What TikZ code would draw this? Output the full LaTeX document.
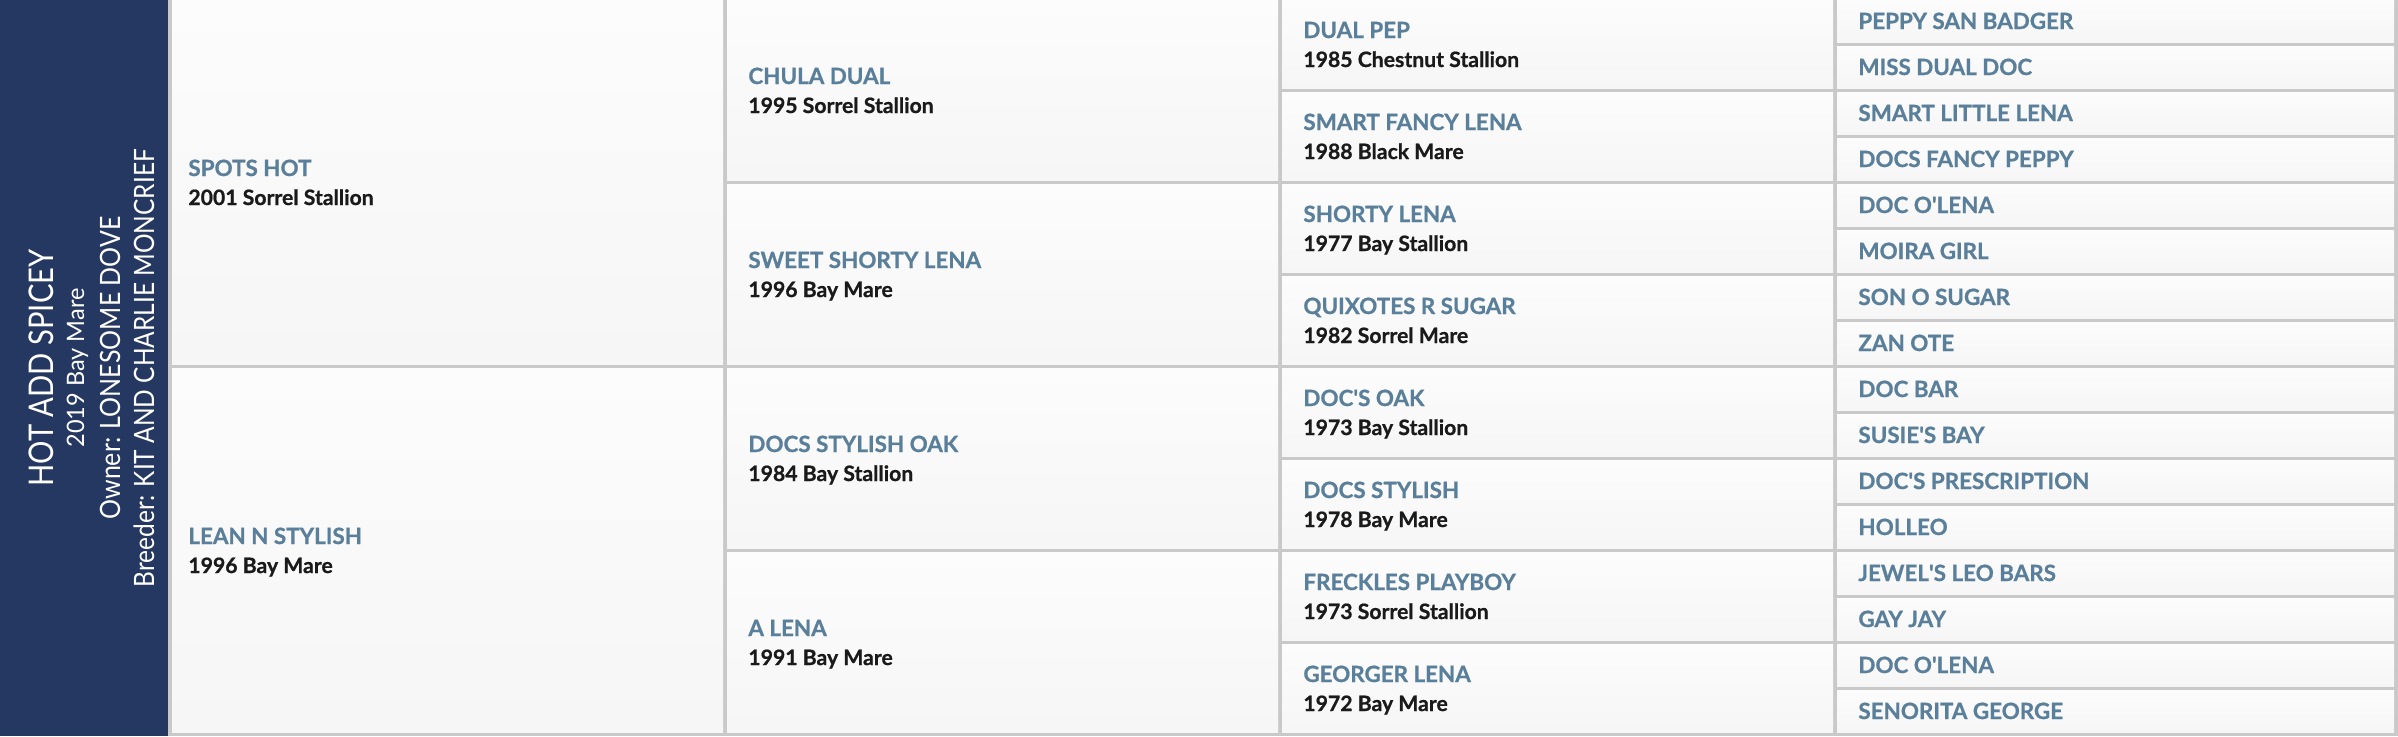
\documentclass[tikz,border=0pt]{standalone}
\usepackage{fontspec}
\setmainfont{Lato}
\newfontfamily\panelfont{Lato}
\newfontfamily\heavyfont{Lato}[BoldFeatures={FakeBold=0.8}]
\usetikzlibrary{fit}
\definecolor{navy}{HTML}{253861}
\definecolor{nameblue}{HTML}{5A7F9B}
\definecolor{datecol}{HTML}{1A1A1A}
\definecolor{gridline}{HTML}{C9C9C9}
\definecolor{celltop}{HTML}{FCFCFC}
\definecolor{cellbot}{HTML}{F6F6F6}
\newcommand\horse[8]{%
  \node[cellbox, fit={(#2,#4)(#3,#5)}] (#1) {};
  \node[hname] (#1n) at (#6,{(#4+#5)/2-6}) {#7};
  \node[hdate] (#1d) at (#6,{(#4+#5)/2+23}) {#8};
}
\newcommand\ancestor[3]{%
  \node[cellbox, fit={(1837,{46*#2})(2394,{46*#2+42})}] (#1) {};
  \node[hname] (#1n) at (1858,{46*#2+29}) {#3};
}
% panel line: font size, target length (pt), text
\newcommand\pline[3]{\resizebox{#2}{\height}{\panelfont\fontsize{#1}{#1}\selectfont #3}}
\begin{document}
\begin{tikzpicture}[x=0.5pt,y=-0.5pt,
  cellbox/.style={inner sep=0pt, outer sep=0pt, draw=none, top color=celltop, bottom color=cellbot},
  hname/.style={anchor=base west, inner sep=0pt, text=nameblue, font=\heavyfont\fontsize{11.2}{13}\selectfont\bfseries},
  hdate/.style={anchor=base west, inner sep=0pt, text=datecol, font=\heavyfont\fontsize{10.6}{12}\selectfont\bfseries},
  ptxt/.style={rotate=90, anchor=base, inner sep=0pt, text=white}]
\useasboundingbox (0,0) rectangle (2398,736);
\fill[gridline] (0,0) rectangle (2398,736);
\node[fit={(0,0)(168,736)}, inner sep=0pt, outer sep=0pt, fill=navy] (panel) {};
\node[ptxt] (title) at (53,368) {\pline{17}{118.5pt}{HOT ADD SPICEY}};
\node[ptxt] (born) at (84,368) {\pline{12}{79.5pt}{2019 Bay Mare}};
\node[ptxt] (owner) at (120,368) {\pline{14}{151.5pt}{Owner: LONESOME DOVE}};
\node[ptxt] (breeder) at (154,368) {\pline{14}{219pt}{Breeder: KIT AND CHARLIE MONCRIEF}};
% generation 1
\horse{sire}{172}{723}{0}{364}{188}{SPOTS HOT}{2001 Sorrel Stallion}
\horse{dam}{172}{723}{368}{732}{188}{LEAN N STYLISH}{1996 Bay Mare}
% generation 2
\horse{ss}{727}{1278}{0}{180}{748}{CHULA DUAL}{1995 Sorrel Stallion}
\horse{sd}{727}{1278}{184}{364}{748}{SWEET SHORTY LENA}{1996 Bay Mare}
\horse{ds}{727}{1278}{368}{548}{748}{DOCS STYLISH OAK}{1984 Bay Stallion}
\horse{dd}{727}{1278}{552}{732}{748}{A LENA}{1991 Bay Mare}
% generation 3
\horse{sss}{1282}{1833}{0}{88}{1303}{DUAL PEP}{1985 Chestnut Stallion}
\horse{ssd}{1282}{1833}{92}{180}{1303}{SMART FANCY LENA}{1988 Black Mare}
\horse{sds}{1282}{1833}{184}{272}{1303}{SHORTY LENA}{1977 Bay Stallion}
\horse{sdd}{1282}{1833}{276}{364}{1303}{QUIXOTES R SUGAR}{1982 Sorrel Mare}
\horse{dss}{1282}{1833}{368}{456}{1303}{DOC\textquotesingle S OAK}{1973 Bay Stallion}
\horse{dsd}{1282}{1833}{460}{548}{1303}{DOCS STYLISH}{1978 Bay Mare}
\horse{dds}{1282}{1833}{552}{640}{1303}{FRECKLES PLAYBOY}{1973 Sorrel Stallion}
\horse{ddd}{1282}{1833}{644}{732}{1303}{GEORGER LENA}{1972 Bay Mare}
% generation 4
\ancestor{a0}{0}{PEPPY SAN BADGER}
\ancestor{a1}{1}{MISS DUAL DOC}
\ancestor{a2}{2}{SMART LITTLE LENA}
\ancestor{a3}{3}{DOCS FANCY PEPPY}
\ancestor{a4}{4}{DOC O\textquotesingle LENA}
\ancestor{a5}{5}{MOIRA GIRL}
\ancestor{a6}{6}{SON O SUGAR}
\ancestor{a7}{7}{ZAN OTE}
\ancestor{a8}{8}{DOC BAR}
\ancestor{a9}{9}{SUSIE\textquotesingle S BAY}
\ancestor{a10}{10}{DOC\textquotesingle S PRESCRIPTION}
\ancestor{a11}{11}{HOLLEO}
\ancestor{a12}{12}{JEWEL\textquotesingle S LEO BARS}
\ancestor{a13}{13}{GAY JAY}
\ancestor{a14}{14}{DOC O\textquotesingle LENA}
\ancestor{a15}{15}{SENORITA GEORGE}
\end{tikzpicture}
\end{document}
